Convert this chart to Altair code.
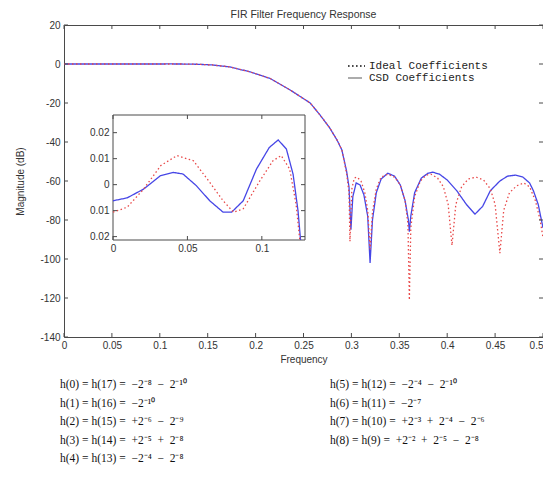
import altair as alt
import pandas as pd

# ---------------- data ----------------
series_names = ["Ideal Coefficients", "CSD Coefficients"]
series_colors = ["#e84848", "#4646e6"]

# passband ripple (inset)
inset_csd_f = [0.0, 0.0095, 0.0206, 0.032, 0.0406, 0.047, 0.056, 0.065, 0.074, 0.0797,
               0.0875, 0.0964, 0.105, 0.111, 0.1165, 0.121, 0.1243, 0.126]
inset_csd_v = [-0.0062, -0.0051, -0.0017, 0.0035, 0.0047, 0.0041, -0.0004, -0.0062, -0.0106, -0.0106,
               -0.0062, 0.006, 0.0143, 0.0172, 0.0137, 0.004, -0.010, -0.0213]
inset_ideal_f = [0.0, 0.0095, 0.0206, 0.032, 0.043, 0.054, 0.065, 0.074, 0.081, 0.0875,
                 0.0987, 0.1075, 0.113, 0.1187, 0.123, 0.1255]
inset_ideal_v = [-0.0106, -0.0087, -0.0017, 0.0073, 0.0112, 0.0092, 0.0009, -0.0062, -0.0106, -0.0093,
                 0.0015, 0.0092, 0.0112, 0.006, -0.0075, -0.0213]

# full response (dB)
csd_f = [0.0, 0.0206, 0.0406, 0.065, 0.0797, 0.0964, 0.111, 0.121, 0.13, 0.14, 0.155, 0.173,
         0.194, 0.215, 0.236, 0.257, 0.267, 0.277, 0.285, 0.29, 0.295, 0.2975, 0.2995, 0.3015,
         0.305, 0.309, 0.313, 0.317, 0.3195, 0.322, 0.326, 0.331, 0.338, 0.345, 0.351, 0.356,
         0.3595, 0.3605, 0.362, 0.366, 0.373, 0.38, 0.385, 0.392, 0.4, 0.41, 0.42, 0.429,
         0.437, 0.445, 0.455, 0.463, 0.471, 0.479, 0.486, 0.49, 0.495, 0.5]
csd_db = [-0.006, -0.002, 0.005, -0.006, -0.011, 0.006, 0.017, 0.004, -0.05, -0.15, -0.5, -1.5,
          -4.0, -7.4, -13.3, -20.0, -26.0, -32.5, -39.0, -44.0, -55.0, -63.0, -85.0, -68.0,
          -61.0, -62.0, -67.0, -78.0, -102.0, -80.0, -66.0, -59.0, -56.0, -57.5, -62.0, -70.0,
          -80.0, -86.0, -78.0, -66.0, -58.5, -56.0, -55.5, -56.5, -59.5, -65.0, -72.0, -77.0,
          -73.0, -65.0, -60.0, -57.5, -57.0, -58.0, -61.0, -65.0, -72.0, -84.0]
ideal_f = [0.0, 0.0206, 0.043, 0.065, 0.081, 0.0987, 0.113, 0.123, 0.13, 0.14, 0.155, 0.173,
           0.194, 0.215, 0.236, 0.257, 0.267, 0.277, 0.285, 0.29, 0.295, 0.2975, 0.2985, 0.3005,
           0.303, 0.306, 0.31, 0.314, 0.317, 0.3195, 0.322, 0.326, 0.331, 0.338, 0.345, 0.351,
           0.356, 0.359, 0.3605, 0.362, 0.366, 0.372, 0.378, 0.383, 0.39, 0.396, 0.401, 0.405,
           0.409, 0.415, 0.422, 0.43, 0.438, 0.445, 0.45, 0.455, 0.459, 0.465, 0.4725, 0.48,
           0.486, 0.492, 0.497, 0.5]
ideal_db = [-0.011, -0.002, 0.011, 0.001, -0.011, 0.002, 0.011, -0.008, -0.05, -0.15, -0.5, -1.5,
            -4.0, -7.4, -13.3, -20.0, -26.0, -32.5, -39.0, -44.0, -56.0, -66.0, -91.0, -64.0,
            -58.5, -58.0, -60.0, -66.0, -75.0, -95.0, -76.0, -64.0, -58.0, -56.5, -58.0, -62.0,
            -70.0, -82.0, -121.0, -84.0, -68.0, -60.0, -57.0, -56.5, -58.5, -63.0, -72.0, -93.0,
            -72.0, -63.0, -59.0, -58.0, -59.5, -64.0, -72.0, -97.0, -75.0, -66.0, -62.5, -61.0,
            -63.0, -70.0, -80.0, -89.0]

x_ticks = [0, 0.05, 0.1, 0.15, 0.2, 0.25, 0.3, 0.35, 0.4, 0.45, 0.5]
y_ticks = [-140, -120, -100, -80, -60, -40, -20, 0, 20]
inset_x_domain = [0, 0.129]
inset_y_domain = [-0.0213, 0.0268]
inset_x_ticks = [0, 0.05, 0.1]
inset_y_ticks = [-0.02, -0.01, 0, 0.01, 0.02]

title_text = "FIR Filter Frequency Response"
x_title = "Frequency"
y_title = "Magnitude (dB)"

S = "\u2002"  # en space used for the wide spacing of the equations
eq_left = [
    f"h(0) = h(17) ={S}\u22122\u207b\u2078{S}\u2212{S}2\u207b\u00b9\u2070",
    f"h(1) = h(16) ={S}\u22122\u207b\u00b9\u2070",
    f"h(2) = h(15) ={S}+2\u207b\u2076{S}\u2212{S}2\u207b\u2079",
    f"h(3) = h(14) ={S}+2\u207b\u2075{S}+{S}2\u207b\u2078",
    f"h(4) = h(13) ={S}\u22122\u207b\u2074{S}\u2212{S}2\u207b\u2078",
]
eq_right = [
    f"h(5) = h(12) ={S}\u22122\u207b\u2074{S}\u2212{S}2\u207b\u00b9\u2070",
    f"h(6) = h(11) ={S}\u22122\u207b\u2077",
    f"h(7) = h(10) ={S}+2\u207b\u00b3{S}+{S}2\u207b\u2074{S}\u2212{S}2\u207b\u2076",
    f"h(8) = h(9) ={S}+2\u207b\u00b2{S}+{S}2\u207b\u2075{S}\u2212{S}2\u207b\u2078",
]

# ---------------- tables ----------------
main_csd = pd.DataFrame({"f": csd_f, "db": csd_db, "series": series_names[1]})
main_ideal = pd.DataFrame({"f": ideal_f, "db": ideal_db, "series": series_names[0]})
in_csd = pd.DataFrame({"f": inset_csd_f, "v": inset_csd_v, "series": series_names[1]})
in_ideal = pd.DataFrame({"f": inset_ideal_f, "v": inset_ideal_v, "series": series_names[0]})
xt = pd.DataFrame({"f": x_ticks})
yt = pd.DataFrame({"db": y_ticks})
ixt = pd.DataFrame({"f": inset_x_ticks})
iyt = pd.DataFrame({"v": inset_y_ticks})
box = pd.DataFrame({"f": [inset_x_domain[0]], "f2": [inset_x_domain[1]],
                    "v": [inset_y_domain[0]], "v2": [inset_y_domain[1]]})

W, H = 479, 312
AX = "#4a4a4a"
LBL = "#333333"
FONT = "Liberation Sans"

# ---------------- main panel ----------------
xs = alt.Scale(domain=[0, 0.5], nice=False, zero=False)
ys = alt.Scale(domain=[-140, 20], nice=False, zero=False)
x_axis = alt.Axis(values=x_ticks, ticks=False, domain=False, grid=False, title=x_title,
                  labelExpr="'' + datum.value", labelFont=FONT, labelFontSize=10,
                  labelColor=LBL, labelPadding=3, titleFont=FONT, titleFontSize=10,
                  titleFontWeight="normal", titleColor=LBL, titlePadding=4, labelFlush=False,
                  labelAlign={"condition": {"test": "datum.value >= 0.5", "value": "right"},
                              "value": "center"})
y_axis = alt.Axis(values=y_ticks, ticks=False, domain=False, grid=False, title=y_title,
                  labelExpr="'' + datum.value", labelFont=FONT, labelFontSize=10,
                  labelColor=LBL, labelPadding=4, titleFont=FONT, titleFontSize=10,
                  titleFontWeight="normal", titleColor=LBL, titlePadding=14, labelFlush=False)
X = alt.X("f:Q", scale=xs, axis=x_axis)
Y = alt.Y("db:Q", scale=ys, axis=y_axis)

color = alt.Color("series:N", scale=alt.Scale(domain=series_names, range=series_colors), legend=None)
dash = alt.StrokeDash("series:N", scale=alt.Scale(domain=series_names, range=[[1.5, 2.5], [1, 0]]),
                      legend=None)

csd_line = alt.Chart(main_csd).mark_line(strokeWidth=1.3).encode(x=X, y=Y, color=color, strokeDash=dash)
ideal_line = alt.Chart(main_ideal).mark_line(strokeWidth=1.3).encode(x=X, y=Y, color=color, strokeDash=dash)

tick_len = 4
xt_bot = alt.Chart(xt).mark_rule(color=AX).encode(x=X, y=alt.value(H), y2=alt.value(H - tick_len))
xt_top = alt.Chart(xt).mark_rule(color=AX).encode(x=X, y=alt.value(0), y2=alt.value(tick_len))
yt_left = alt.Chart(yt).mark_rule(color=AX).encode(y=Y, x=alt.value(0), x2=alt.value(tick_len))
yt_right = alt.Chart(yt).mark_rule(color=AX).encode(y=Y, x=alt.value(W), x2=alt.value(W - tick_len))

# title as text
title_mark = alt.Chart(pd.DataFrame({"t": [title_text]})).mark_text(
    align="center", baseline="middle", font=FONT, fontSize=10.5, color=LBL).encode(
    x=alt.value(W / 2), y=alt.value(-10), text="t:N")

# hand-made legend (MATLAB style, monospace)
leg_df1 = pd.DataFrame({"t": [series_names[0]]})
leg_df2 = pd.DataFrame({"t": [series_names[1]]})
leg_sym1 = alt.Chart(leg_df1).mark_rule(color="#111", strokeWidth=1.6, strokeDash=[1.6, 2.4]).encode(
    x=alt.value(284), x2=alt.value(301), y=alt.value(41))
leg_sym2 = alt.Chart(leg_df2).mark_rule(color="#888", strokeWidth=1.4).encode(
    x=alt.value(284), x2=alt.value(298), y=alt.value(53))
leg_txt1 = alt.Chart(leg_df1).mark_text(align="left", baseline="middle", font="Liberation Mono",
                                        fontSize=11, color="#222").encode(
    x=alt.value(305), y=alt.value(41), text="t:N")
leg_txt2 = alt.Chart(leg_df2).mark_text(align="left", baseline="middle", font="Liberation Mono",
                                        fontSize=11, color="#222").encode(
    x=alt.value(305), y=alt.value(53), text="t:N")

eq_l = alt.Chart(pd.DataFrame({"t": ["\n".join(eq_left)]})).mark_text(
    align="left", baseline="middle", lineBreak="\n", lineHeight=18.5,
    font="Liberation Serif", fontSize=11.5, color="#111").encode(
    x=alt.value(-4), y=alt.value(360), text="t:N")
eq_r = alt.Chart(pd.DataFrame({"t": ["\n".join(eq_right)]})).mark_text(
    align="left", baseline="middle", lineBreak="\n", lineHeight=18.5,
    font="Liberation Serif", fontSize=11.5, color="#111").encode(
    x=alt.value(266), y=alt.value(360), text="t:N")

main = alt.layer(csd_line, ideal_line, xt_bot, xt_top, yt_left, yt_right, title_mark,
                 leg_sym1, leg_sym2, leg_txt1, leg_txt2, eq_l, eq_r)

# ---------------- inset panel ----------------
IX0, IX1 = 49, 241
IY0, IY1 = 215, 90
ixs = alt.Scale(domain=inset_x_domain, range=[IX0, IX1], nice=False, zero=False)
iys = alt.Scale(domain=inset_y_domain, range=[IY0, IY1], nice=False, zero=False)
ix_axis = alt.Axis(orient="bottom", offset=IY0 - H, values=inset_x_ticks, ticks=False, domain=False,
                   grid=False, title=None, labelExpr="'' + datum.value", labelFont=FONT,
                   labelFontSize=10, labelColor=LBL, labelPadding=3, labelFlush=False)
iy_axis = alt.Axis(orient="left", offset=-IX0, values=inset_y_ticks, ticks=False, domain=False,
                   grid=False, title=None,
                   labelExpr="datum.value == 0 ? '0' : format(abs(datum.value), '.2f')",
                   labelFont=FONT, labelFontSize=10, labelColor=LBL, labelPadding=4, labelFlush=False)
IXe = alt.X("f:Q", scale=ixs, axis=ix_axis)
IYe = alt.Y("v:Q", scale=iys, axis=iy_axis)

inset_box = alt.Chart(box).mark_rect(fill="white", stroke=AX, strokeWidth=1).encode(
    x=IXe, x2="f2", y=IYe, y2="v2")
icolor = alt.Color("series:N", scale=alt.Scale(domain=series_names, range=series_colors), legend=None)
idash = alt.StrokeDash("series:N", scale=alt.Scale(domain=series_names, range=[[1.5, 2.5], [1, 0]]),
                       legend=None)
in_csd_line = alt.Chart(in_csd).mark_line(strokeWidth=1.3).encode(x=IXe, y=IYe, color=icolor, strokeDash=idash)
in_ideal_line = alt.Chart(in_ideal).mark_line(strokeWidth=1.3).encode(x=IXe, y=IYe, color=icolor, strokeDash=idash)
ixt_bot = alt.Chart(ixt).mark_rule(color=AX).encode(x=IXe, y=alt.value(IY0), y2=alt.value(IY0 - tick_len))
ixt_top = alt.Chart(ixt).mark_rule(color=AX).encode(x=IXe, y=alt.value(IY1), y2=alt.value(IY1 + tick_len))
iyt_left = alt.Chart(iyt).mark_rule(color=AX).encode(y=IYe, x=alt.value(IX0), x2=alt.value(IX0 + tick_len))
iyt_right = alt.Chart(iyt).mark_rule(color=AX).encode(y=IYe, x=alt.value(IX1), x2=alt.value(IX1 - tick_len))

inset = alt.layer(inset_box, in_csd_line, in_ideal_line, ixt_bot, ixt_top, iyt_left, iyt_right)

chart = alt.layer(main, inset).resolve_scale(
    x="independent", y="independent", color="independent", strokeDash="independent"
).properties(
    width=W, height=H,
    autosize=alt.AutoSizeParams(type="none"),
    padding={"left": 56, "top": 17, "right": 0, "bottom": 128},
).configure_view(stroke=AX, strokeWidth=1)

chart.save("out.html", embed_options={"renderer": "svg", "actions": False})
